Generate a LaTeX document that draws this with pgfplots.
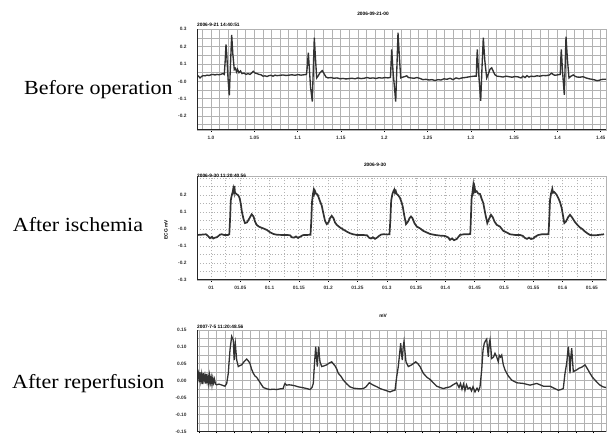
\documentclass[border=0pt]{standalone}
\usepackage{fontspec}
\setmainfont{Liberation Serif}
\newfontfamily\tf{Liberation Sans}
\usepackage{graphicx}
\usepackage{pgfplots}
\pgfplotsset{compat=1.18}
\newcommand\tickfont{\tf\fontsize{4.8}{5}\selectfont\bfseries}
\definecolor{trace}{RGB}{50,50,50}
\definecolor{gridc}{RGB}{178,178,178}
\pgfplotsset{
  ecg/.style={
    scale only axis, width=409pt,
    xmin=0, xmax=409,
    axis line style={gridc, line width=0.8pt},
    tick align=outside, xtick pos=bottom, ytick pos=left,
    major tick length=2pt, minor tick length=0pt,
    xtick style={black, line width=0.6pt}, ytick style={draw=none},
    ticklabel style={font=\tickfont, text=black!80},
    yticklabel style={xshift=-5pt},
    xticklabel style={yshift=-1pt},
    grid=both,
    major grid style={gridc, line width=0.9pt},
    minor grid style={gridc, line width=0.9pt},
  },
}
\begin{document}
\begin{tikzpicture}
\useasboundingbox (0,0) rectangle (608pt,435pt);

% ---------------- before operation ----------------
\begin{axis}[ecg, name=a1, at={(197pt,305pt)}, anchor=south west,
  height=100.7pt, ymin=-0.28, ymax=0.3,
  xtick={14,57.3,...,409},
  xticklabels={1.0,1.05,1.1,1.15,1.2,1.25,1.3,1.35,1.4,1.45},
  minor xtick={5.34,14,...,409},
  ytick={-0.2,-0.1,0,0.1,0.2,0.3},
  yticklabels={-0.2,-0.1,-0.0,0.1,0.2,0.3},
  minor ytick={-0.25,-0.15,-0.05,0.05,0.15,0.25},
]
\addplot[trace, line width=1.35pt] coordinates {
(0,0.035)(1.5,0.03)(3,0.02)(4.5,0.028)(6,0.033)(8,0.032)(10,0.036)(12,0.034)(14,0.038)(16,0.04)(18,0.037)(20,0.04)(22,0.038)(24,0.041)(26,0.045)(27.3,0.04)
(28.2,0.12)(29,0.213)(29.8,0.15)(31,0.02)(32.3,-0.081)(33.5,0.1)(34.7,0.267)(35.8,0.16)(37.3,0.068)(38.5,0.075)(39.5,0.055)(40.5,0.07)(42,0.05)(43.5,0.06)(45,0.045)(47,0.048)(49,0.04)(51,0.045)(53,0.04)(55,0.05)(56.3,0.058)(58,0.048)(60,0.045)(62,0.04)(64,0.038)(66,0.03)(68,0.032)(70,0.028)(72,0.033)(74,0.035)(76,0.03)(78,0.036)(80,0.033)(83,0.035)(86,0.037)(89,0.034)(92,0.036)(95,0.038)(98,0.035)(101,0.039)(104,0.036)(107,0.038)(109.5,0.04)
(110.5,0.1)(111.3,0.165)(112.3,0.08)(113.5,-0.03)(115.3,-0.116)(116.3,0.07)(117.3,0.252)(118.5,0.13)(119.7,0.02)(121,0.03)(123,0.05)(125.3,0.062)(127,0.045)(129,0.025)(131,0.02)(134,0.022)(137,0.018)(140,0.02)(143,0.015)(146,0.017)(149,0.014)(152,0.016)(155,0.018)(158,0.015)(161,0.02)(164,0.016)(167,0.018)(170,0.022)(173,0.018)(176,0.02)(179,0.017)(182,0.021)(185,0.019)(188,0.022)(191,0.02)(193.5,0.023)
(194.2,0.12)(194.7,0.184)(196,0.06)(198.7,-0.116)(200,0.1)(201,0.281)(202.3,0.15)(203.7,0.02)(206,0.025)(208,0.028)(209.7,0.032)(211.5,0.022)(214,0.02)(217,0.018)(220,0.022)(223,0.017)(226,0.01)(229,0.012)(232,0.008)(235,0.01)(238,0.005)(241,0.01)(244,0.008)(247,0.015)(250,0.012)(253,0.018)(256,0.01)(259,0.02)(262,0.015)(265,0.02)(268,0.022)(271,0.025)(274,0.028)(277,0.03)(279.3,0.03)
(279.8,0.12)(280.3,0.184)(281.5,0.06)(283.7,-0.112)(285,0.08)(286.3,0.252)(287.8,0.12)(289.7,0.02)(291.5,0.045)(293,0.07)(294.7,0.078)(296.5,0.055)(298,0.038)(300,0.03)(303,0.028)(306,0.025)(309,0.03)(312,0.027)(315,0.024)(318,0.028)(321,0.026)(324,0.02)(326,0.03)(328,0.022)(330,0.033)(332,0.025)(334,0.03)(337,0.028)(340,0.032)(343,0.03)(346,0.034)(349,0.033)(352,0.036)(354.7,0.047)(356.5,0.038)(358,0.035)(361,0.038)(363.3,0.04)
(363.8,0.13)(364.3,0.184)(365.5,0.06)(367.3,-0.077)(368.2,0.1)(369,0.258)(370.5,0.12)(372,0.02)(374,0.03)(376.3,0.037)(378,0.03)(380,0.025)(383,0.024)(386,0.027)(389,0.02)(392,0.015)(395,0.012)(398,0.008)(400,0.004)(402,0.006)(404,0.01)(406,0.012)(409,0.012)
};
\draw[black!85, line width=1pt] (rel axis cs:0,1) -- (rel axis cs:0,0) -- (rel axis cs:1,0);
\end{axis}

% ---------------- after ischemia ----------------
\begin{axis}[ecg, name=a2, at={(197pt,155pt)}, anchor=south west,
  height=103.3pt, ymin=-0.3, ymax=0.31,
  xtick={14,43.3,...,409},
  xticklabels={01,01.05,01.1,01.15,01.2,01.25,01.3,01.35,01.4,01.45,01.5,01.55,01.6,01.65},
  minor xtick={14,28.65,...,409},
  ytick={-0.3,-0.2,-0.1,0,0.1,0.2},
  yticklabels={-0.3,-0.2,-0.1,-0.0,0.1,0.2},
  minor ytick={-0.25,-0.15,-0.05,0.05,0.15,0.25,0.3},
  major grid style={gridc, line width=0.9pt, dotted},
  minor grid style={gridc, line width=0.9pt, dotted},
]
\addplot[trace, line width=1.7pt] coordinates {
(0.7,-0.034)(5,-0.032)(9,-0.03)(11,-0.04)(13,-0.053)(15,-0.045)(16.3,-0.055)(18,-0.05)(19.7,-0.048)(21.5,-0.04)(23,-0.032)(24.7,-0.03)(27,-0.034)(31,-0.034)(32.3,-0.03)
(33,0.05)(33.8,0.17)(34.7,0.2)(35.5,0.215)(36.3,0.24)(37,0.22)(37.4,0.255)(38,0.215)(39,0.21)(40,0.205)(41.3,0.2)(42.5,0.185)(43.5,0.16)(45,0.1)(46.5,0.06)(48,0.036)(50,0.04)(52,0.06)(54.7,0.088)(56.5,0.075)(58,0.045)(59.7,0.025)(62,0.015)(64.7,0.008)(67,0.003)(70,-0.005)(73,-0.018)(76.3,-0.028)(80,-0.033)(85,-0.034)(90,-0.034)(93,-0.036)(95,-0.048)(97,-0.05)(99,-0.043)(101,-0.052)(103,-0.045)(106,-0.035)(110,-0.034)(113.5,-0.033)
(114.3,0.05)(115,0.16)(116,0.21)(116.7,0.23)(117.3,0.21)(118,0.225)(119,0.21)(120.5,0.205)(121.5,0.19)(123,0.165)(124.7,0.14)(126.5,0.09)(128,0.05)(129.7,0.03)(131.5,0.04)(133,0.065)(134.7,0.079)(136.5,0.065)(138,0.04)(139.7,0.026)(143,0.01)(146.3,-0.002)(150,-0.015)(153,-0.024)(156,-0.03)(159.7,-0.034)(165,-0.034)(170,-0.036)(172,-0.05)(174,-0.055)(176,-0.048)(178,-0.057)(180,-0.05)(182,-0.04)(184,-0.032)(186.3,-0.03)(190,-0.031)(192.5,-0.03)
(193.3,0.05)(194.2,0.17)(195.5,0.21)(196.5,0.225)(197.3,0.234)(198,0.215)(198.8,0.225)(199.7,0.208)(201.3,0.2)(203,0.184)(204.5,0.16)(205.7,0.135)(207.3,0.08)(209,0.03)(211,0.045)(212.5,0.065)(214,0.075)(215.5,0.065)(217.5,0.035)(219.7,0.016)(223,0.005)(226.3,-0.01)(230,-0.02)(233,-0.028)(238,-0.034)(243,-0.038)(248,-0.04)(251,-0.048)(253,-0.063)(255,-0.055)(257,-0.065)(259.7,-0.058)(261.5,-0.045)(263,-0.034)(267,-0.03)(271.3,-0.03)(273.3,-0.028)
(273.8,0.05)(274.6,0.18)(275.5,0.22)(276.3,0.259)(276.9,0.23)(277.5,0.25)(278.5,0.22)(279.7,0.224)(281.3,0.21)(283,0.208)(284.6,0.18)(286.3,0.154)(288.3,0.09)(290.3,0.036)(292,0.06)(294,0.085)(295.8,0.07)(297.5,0.045)(299.7,0.026)(303,0.015)(306.3,-0.01)(310,-0.02)(313,-0.03)(318,-0.034)(323,-0.034)(326,-0.04)(328,-0.052)(330,-0.057)(332,-0.05)(334,-0.058)(336.3,-0.055)(338,-0.045)(341.3,-0.034)(345,-0.03)(349.7,-0.03)(351.5,-0.03)
(352.2,0.05)(353,0.17)(354,0.21)(355.3,0.238)(356,0.215)(357,0.22)(358,0.214)(359.5,0.205)(361.3,0.184)(363,0.16)(364.7,0.125)(366,0.08)(367.3,0.036)(369,0.045)(371,0.07)(373,0.085)(375,0.07)(378,0.042)(380.5,0.025)(383,0.01)(385.5,0)(388,-0.014)(390.5,-0.025)(393,-0.034)(397,-0.036)(400,-0.035)(404,-0.032)(407,-0.03)
};
\draw[black!85, line width=1pt] (rel axis cs:0,1) -- (rel axis cs:0,0) -- (rel axis cs:1,0);
\end{axis}

% ---------------- after reperfusion ----------------
\begin{axis}[ecg, name=a3, at={(197pt,3.5pt)}, anchor=south west,
  height=101.5pt, ymin=-0.15, ymax=0.15,
  xtick={2.6,19.7,...,409}, xticklabels={},
  minor xtick={2.6,11.15,...,409},
  ytick={-0.15,-0.1,-0.05,0,0.05,0.1,0.15},
  yticklabels={-0.15,-0.10,-0.05,0.00,0.05,0.10,0.15},
  minor ytick={-0.125,-0.075,-0.025,0.025,0.075,0.125},
]
\addplot[trace, line width=1.3pt] coordinates {
(0.7,0.005)(1.5,0.02)(2.3,-0.005)(3,0.025)(3.8,0)(4.6,0.018)(5.4,-0.01)(6.2,0.022)(7,0.002)(7.8,0.015)(8.6,-0.008)(9.4,0.02)(10.2,-0.002)(11,0.012)(11.8,-0.01)(12.6,0.015)(13.4,-0.005)(14.2,0.01)(15,-0.012)(15.8,0.008)(16.6,-0.006)(17.4,0.005)(18.5,-0.01)(19.7,-0.012)(22,-0.01)(25,-0.013)(28,-0.016)(29.7,-0.008)
(31.3,0.022)(32.2,0.06)(33,0.091)(34,0.115)(34.7,0.131)(35.5,0.125)(36.3,0.121)(36.8,0.085)(37.3,0.061)(37.8,0.1)(38.3,0.111)(39,0.085)(39.7,0.061)(41.3,0.042)(43,0.045)(44.7,0.047)(47,0.056)(49.7,0.064)(51.5,0.058)(53,0.051)(54.5,0.035)(56.3,0.022)(58,0.014)(59.7,0.01)(63,-0.005)(66.3,-0.02)(70,-0.024)(73,-0.026)(76,-0.025)(79.7,-0.026)(83,-0.024)(86.3,-0.023)(87,-0.015)(88,-0.008)(89.7,-0.013)(92,-0.012)(94.7,-0.013)(98,-0.015)(101.3,-0.018)(105,-0.02)(109.7,-0.023)(113,-0.026)(115,-0.02)(116.3,-0.008)
(117.3,0.042)(118.7,0.101)(119.5,0.07)(120.3,0.042)(121,0.08)(121.7,0.101)(122.3,0.075)(123,0.056)(124.7,0.042)(127,0.044)(129.7,0.047)(132,0.052)(134.7,0.056)(136.3,0.05)(138,0.044)(139.7,0.035)(141.3,0.022)(144,0.013)(146.3,0.002)(150,-0.01)(153,-0.018)(156.5,-0.022)(159.7,-0.023)(163,-0.024)(166.3,-0.023)(169,-0.018)(172.3,-0.006)(174.5,-0.01)(176.3,-0.013)(180,-0.018)(183,-0.023)(188,-0.028)(193,-0.033)(195.5,-0.03)(198,-0.028)
(199.7,0.012)(201.3,0.042)(203.7,0.111)(204.5,0.08)(205.3,0.061)(206.2,0.1)(207,0.116)(208,0.085)(209,0.056)(211.3,0.042)(214.7,0.047)(218.7,0.056)(221,0.05)(223,0.042)(226.3,0.022)(230,0.01)(233,0.004)(236,-0.005)(239.7,-0.016)(243,-0.02)(246.3,-0.023)(250,-0.02)(253,-0.018)(256,-0.012)(259.7,-0.006)(262,-0.02)(263.5,-0.008)(265,-0.025)(266.5,-0.01)(268,-0.028)(269.5,-0.012)(271,-0.024)(273,-0.02)(274.5,-0.03)(276,-0.018)(278,-0.033)(280,-0.022)(281.5,-0.03)(283,-0.018)
(284.7,0.032)(286,0.09)(287.3,0.111)(288.5,0.118)(289.7,0.123)(290.5,0.095)(291.3,0.071)(292.2,0.11)(293,0.121)(294,0.09)(294.7,0.066)(296.5,0.07)(298,0.081)(299.5,0.072)(301.3,0.056)(302.3,0.075)(303.5,0.07)(304.7,0.076)(306.3,0.047)(308,0.032)(311.3,0.014)(314.7,0.002)(319.7,-0.006)(326.3,-0.008)(333,-0.013)(339.7,-0.008)(346.3,-0.016)(353,-0.016)(357,-0.022)(361.3,-0.028)(364,-0.026)(366.3,-0.023)
(368,0.022)(369.7,0.052)(371.3,0.101)(372.2,0.07)(373,0.022)(373.8,0.07)(374.7,0.096)(375.5,0.06)(376.3,0.027)(378,0.03)(379.7,0.032)(382,0.037)(384.7,0.04)(388,0.047)(390.5,0.035)(393,0.022)(395.5,0.01)(398,0.002)(400.5,-0.006)(403,-0.013)(406,-0.018)(409,-0.02)
};
\draw[black!85, line width=1pt] (rel axis cs:0,1) -- (rel axis cs:0,0) -- (rel axis cs:1,0);
\end{axis}

% panel labels
\node[anchor=base west, inner sep=0pt, font=\fontsize{20}{20}\selectfont] at (24pt,340pt) {\scalebox{1.1}[1]{Before operation}};
\node[anchor=base west, inner sep=0pt, font=\fontsize{20}{20}\selectfont] at (12.7pt,203.3pt) {\scalebox{1.1}[1]{After ischemia}};
\node[anchor=base west, inner sep=0pt, font=\fontsize{20}{20}\selectfont] at (12pt,46pt) {\scalebox{1.1}[1]{After reperfusion}};

% small header texts
\node[font=\tickfont, inner sep=0pt] at (373pt,421pt) {2006-09-21-00};
\node[font=\tickfont, inner sep=0pt, anchor=south west] at (197pt,408pt) {2006-9-21 14:40:51};
\node[font=\tickfont, inner sep=0pt] at (375pt,270pt) {2006-9-30};
\node[font=\tickfont, inner sep=0pt, anchor=south west] at (197pt,257.5pt) {2006-9-30 11:20:40.56};
\node[font=\tickfont, inner sep=0pt, rotate=90] at (166pt,205pt) {ECG mV};
\node[font=\tickfont, inner sep=0pt] at (383pt,119pt) {mV};
\node[font=\tickfont, inner sep=0pt, anchor=south west] at (197pt,106pt) {2007-7-5 11:20:48.56};
\end{tikzpicture}
\end{document}
